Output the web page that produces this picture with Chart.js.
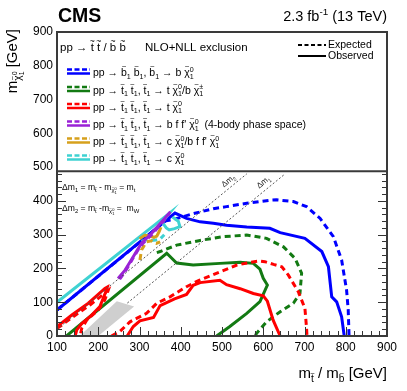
<!DOCTYPE html>
<html><head><meta charset="utf-8">
<script src="https://cdn.jsdelivr.net/npm/chart.js@4"></script>
<style>html,body{margin:0;padding:0;background:#fff}canvas{display:block}</style>
</head><body>
<canvas id="c" width="407" height="391"></canvas>
<script>
const FONT = '"Liberation Sans", Arial, Helvetica, sans-serif';

// ---- tick values ----
const xTickValues = [100, 200, 300, 400, 500, 600, 700, 800, 900];
const yTickValues = [0, 100, 200, 300, 400, 500, 600, 700, 800, 900];

// ---- contours [m_stop/sbottom, m_LSP] (GeV) ----
const sbottomObs = [[100,77],[386,364],[414,348],[447,338],[479,334],[511,328],[560,323],[616,319],[641,306],[701,289],[742,250],[758,205],[766,116],[778,101],[790,57],[796,3],[797,0]];
const sbottomExp = [[100,77],[345,322],[358,340],[382,345],[430,362],[479,377],[511,383],[560,393],[616,402],[632,403],[673,398],[705,383],[738,348],[770,294],[790,225],[802,136],[806,77],[808,0]];

const mixedObs = [[123,0],[366,245],[390,216],[430,210],[495,215],[544,218],[576,215],[592,198],[600,171],[610,151],[592,102],[560,67],[519,28],[487,0]];
const mixedExp = [[342,247],[350,250],[390,269],[447,283],[503,294],[560,299],[608,289],[649,264],[677,230],[693,186],[689,126],[673,97],[641,72],[608,42],[584,8],[580,0]];

const topObsDiag = [[100,28],[136,62],[176,97],[216,141],[222,145],[220,136],[204,87],[180,57],[160,37],[148,18],[144,0]];
const topExpDiag = [[100,22],[140,58],[180,92],[224,135],[216,107],[200,77],[172,47],[160,23],[156,0]];
const topObs = [[270,0],[285,28],[301,45],[334,55],[350,90],[385,110],[414,123],[430,150],[447,158],[495,165],[511,152],[544,140],[576,126],[600,119],[610,103],[624,47],[641,0]];
const topExp = [[232,0],[253,14],[277,42],[293,52],[317,67],[342,97],[374,116],[414,146],[438,161],[447,166],[495,190],[536,210],[568,218],[590,222],[604,220],[625,212],[645,205],[661,180],[685,131],[701,82],[705,23],[706,0]];

const fourBodyObs = [[248,170],[265,195],[280,225],[295,255],[305,275],[330,305],[355,340],[375,368]];
const fourBodyExp = [[252,168],[268,196],[283,228],[297,256],[308,274],[332,303],[357,338],[372,362]];

const charmMixObs = [[300,288],[313,298],[325,296],[335,292],[342,296],[348,310],[352,322]];
const charmMixExp = [[301,225],[305,255],[317,279],[329,282],[341,274],[350,279]];

const charmObs = [[100,100],[372,363],[360,345],[356,335],[365,320],[372,314],[385,318],[398,324],[394,340],[380,352]];
const charmExp = [[305,280],[315,285],[328,283],[340,284],[350,287],[360,300]];

const deltaM1Line = [[173,0],[653,480]];
const deltaM2Line = [[100,20],[560,480]];
const topCorridor = [[155,0],[200,0],[287,87],[245,103],[155,0]];

// ---- legend ----
const legendLabels = [
  "pp \u2192 ~b_{1} ~b_{1}, ~b_{1} \u2192 b ~\u03c7^{0}_{1}",
  "pp \u2192 ~t_{1} ~t_{1}, ~t_{1} \u2192 t ~\u03c7^{0}_{1}/b ~\u03c7^{\u00b1}_{1}",
  "pp \u2192 ~t_{1} ~t_{1}, ~t_{1} \u2192 t ~\u03c7^{0}_{1}",
  "pp \u2192 ~t_{1} ~t_{1}, ~t_{1} \u2192 b f f' ~\u03c7^{0}_{1}  (4-body phase space)",
  "pp \u2192 ~t_{1} ~t_{1}, ~t_{1} \u2192 c ~\u03c7^{0}_{1}/b f f' ~\u03c7^{0}_{1}",
  "pp \u2192 ~t_{1} ~t_{1}, ~t_{1} \u2192 c ~\u03c7^{0}_{1}"
];
const seriesColors = ['#0000ff', '#137a13', '#ff0000', '#9a22d6', '#d6a01c', '#3fd2d2'];

// ---- rich text helper (sub/superscripts, tildes) ----
function tokenize(s) {
  const toks = []; let buf = ''; let i = 0;
  const flush = () => { if (buf) { toks.push({k: 'p', t: buf}); buf = ''; } };
  while (i < s.length) {
    const c = s[i];
    if ((c === '_' || c === '^') && s[i+1] === '{') {
      flush();
      let d = 0, j = i + 1;
      for (; j < s.length; j++) { if (s[j] === '{') d++; else if (s[j] === '}') { d--; if (d === 0) break; } }
      toks.push({k: c === '_' ? 'sub' : 'sup', t: s.slice(i + 2, j)});
      i = j + 1;
    } else if (c === '~') {
      flush(); toks.push({k: 'til', t: s[i+1]}); i += 2;
    } else { buf += c; i++; }
  }
  flush();
  return toks;
}
function layoutRich(ctx, s, size, dy) {
  const toks = tokenize(s); const items = []; let cx = 0;
  let lastScript = null;
  for (const tk of toks) {
    if (tk.k === 'p' || tk.k === 'til') {
      ctx.font = size + 'px ' + FONT;
      const w = ctx.measureText(tk.t).width;
      items.push({t: tk.t, x: cx, dy, fs: size, tilde: tk.k === 'til', w});
      cx += w; lastScript = null;
    } else {
      const fs = size * 0.68;
      const sdy = dy + (tk.k === 'sub' ? size * 0.28 : -size * 0.42);
      const sub = layoutRich(ctx, tk.t, fs, sdy);
      let x0 = cx;
      if (lastScript && lastScript.k !== tk.k && !lastScript.stacked) {
        x0 = lastScript.x;
        cx = x0 + Math.max(lastScript.w, sub.width);
        lastScript = {k: tk.k, x: x0, w: sub.width, stacked: true};
      } else {
        cx += sub.width;
        lastScript = {k: tk.k, x: x0, w: sub.width, stacked: false};
      }
      for (const it of sub.items) items.push(Object.assign({}, it, {x: it.x + x0}));
    }
  }
  return {items, width: cx};
}
function drawRich(ctx, s, x, y, size, align, color) {
  const L = layoutRich(ctx, s, size, 0);
  let x0 = x;
  if (align === 'right') x0 = x - L.width; else if (align === 'center') x0 = x - L.width / 2;
  ctx.save();
  ctx.fillStyle = color || '#000';
  ctx.textBaseline = 'alphabetic'; ctx.textAlign = 'left';
  for (const it of L.items) {
    ctx.font = it.fs + 'px ' + FONT;
    ctx.fillText(it.t, x0 + it.x, y + it.dy);
    if (it.tilde) {
      ctx.font = (it.fs * 0.75) + 'px ' + FONT;
      ctx.textAlign = 'center';
      ctx.fillText('~', x0 + it.x + it.w / 2, y + it.dy - it.fs * 0.62);
      ctx.textAlign = 'left';
    }
  }
  ctx.restore();
  return L.width;
}

// ---- datasets ----
function ds(data, color, dashed, width, extra) {
  return Object.assign({
    data: data.map(p => ({x: p[0], y: p[1]})),
    showLine: true, borderColor: color, backgroundColor: color,
    borderWidth: width || 3, borderDash: dashed ? [6, 4] : [],
    pointRadius: 0, tension: 0, fill: false
  }, extra || {});
}
const datasets = [
  ds(topCorridor, 'rgba(0,0,0,0)', false, 0, {fill: 'shape', backgroundColor: '#cfcfcf'}),
  ds(deltaM1Line, '#555555', true, 1, {borderDash: [2, 2]}),
  ds(deltaM2Line, '#555555', true, 1, {borderDash: [2, 2]}),
  ds(topExpDiag, seriesColors[2], true),
  ds(topObsDiag, seriesColors[2], false),
  ds(topExp, seriesColors[2], true),
  ds(topObs, seriesColors[2], false),
  ds(mixedExp, seriesColors[1], true),
  ds(mixedObs, seriesColors[1], false),
  ds(fourBodyExp, seriesColors[3], true),
  ds(fourBodyObs, seriesColors[3], false),
  ds(charmMixExp, seriesColors[4], true),
  ds(charmMixObs, seriesColors[4], false),
  ds(charmExp, seriesColors[5], true),
  ds(charmObs, seriesColors[5], false),
  ds(sbottomExp, seriesColors[0], true),
  ds(sbottomObs, seriesColors[0], false)
];

const decor = {
  id: 'decor',
  afterDatasetsDraw(chart) {
    const ctx = chart.ctx, a = chart.chartArea;
    const sx = chart.scales.x, sy = chart.scales.y;
    ctx.save();
    // ticks
    ctx.strokeStyle = '#333'; ctx.lineWidth = 1;
    ctx.beginPath();
    for (let v = 100; v <= 900; v += 20) {
      const px = Math.round(sx.getPixelForValue(v)) + 0.5;
      const len = (v % 100 === 0) ? 9 : 5;
      ctx.moveTo(px, a.bottom); ctx.lineTo(px, a.bottom - len);
    }
    for (let v = 0; v <= 900; v += 20) {
      const py = Math.round(sy.getPixelForValue(v)) + 0.5;
      const len = (v % 100 === 0) ? 9 : 5;
      ctx.moveTo(a.left, py); ctx.lineTo(a.left + len, py);
      ctx.moveTo(a.right, py); ctx.lineTo(a.right - len, py);
    }
    ctx.stroke();
    // delta m line labels
    const ang = Math.atan2(sy.getPixelForValue(100) - sy.getPixelForValue(0), sx.getPixelForValue(200) - sx.getPixelForValue(100));
    const lab = (txt, vx, vy) => {
      ctx.save();
      ctx.translate(sx.getPixelForValue(vx), sy.getPixelForValue(vy));
      ctx.rotate(ang);
      drawRich(ctx, txt, 0, 0, 8, 'left', '#222');
      ctx.restore();
    };
    lab('\u0394m_{2}', 505, 440);
    lab('\u0394m_{1}', 590, 436);
    // annotation text
    drawRich(ctx, '\u0394m_{1} = m_{~t} - m_{~\u03c7^{0}_{1}} = m_{t}', a.left + 5, 190, 8.6, 'left');
    drawRich(ctx, '\u0394m_{2} = m_{~t} -m_{~\u03c7^{0}_{1}} =  m_{W}', a.left + 5, 211, 8.6, 'left');

    // legend box
    const boxBottom = sy.getPixelForValue(488);
    ctx.fillStyle = '#fff';
    ctx.fillRect(a.left, a.top, a.right - a.left, boxBottom - a.top);
    ctx.strokeStyle = '#3a3a3a'; ctx.lineWidth = 2;
    ctx.beginPath(); ctx.moveTo(a.left, boxBottom); ctx.lineTo(a.right, boxBottom); ctx.stroke();
    ctx.strokeRect(a.left, a.top, a.right - a.left, a.bottom - a.top);

    drawRich(ctx, 'pp \u2192 ~t ~t / ~b ~b', a.left + 3, 51, 11.5, 'left');
    drawRich(ctx, 'NLO+NLL exclusion', 145, 51, 11.5, 'left');
    // expected / observed
    ctx.strokeStyle = '#000'; ctx.lineWidth = 2;
    ctx.setLineDash([4, 2.5]);
    ctx.beginPath(); ctx.moveTo(298, 45); ctx.lineTo(326, 45); ctx.stroke();
    ctx.setLineDash([]);
    ctx.beginPath(); ctx.moveTo(298, 56); ctx.lineTo(326, 56); ctx.stroke();
    ctx.fillStyle = '#000'; ctx.font = '10.5px ' + FONT; ctx.textBaseline = 'middle'; ctx.textAlign = 'left';
    ctx.fillText('Expected', 328, 45);
    ctx.fillText('Observed', 328, 56);

    const cy = [72, 89.5, 106.5, 124, 141, 158];
    legendLabels.forEach((lbl, i) => {
      const c = cy[i];
      ctx.strokeStyle = seriesColors[i]; ctx.lineWidth = 2.5;
      ctx.setLineDash([5, 2.5]);
      ctx.beginPath(); ctx.moveTo(67, c - 2.5); ctx.lineTo(90, c - 2.5); ctx.stroke();
      ctx.setLineDash([]);
      ctx.beginPath(); ctx.moveTo(67, c + 1.5); ctx.lineTo(90, c + 1.5); ctx.stroke();
      drawRich(ctx, lbl, 93, c + 4, 10.5, 'left');
    });
    ctx.restore();
  },
  afterDraw(chart) {
    const ctx = chart.ctx, a = chart.chartArea;
    ctx.save();
    ctx.fillStyle = '#000';
    ctx.font = 'bold 19.5px ' + FONT; ctx.textBaseline = 'alphabetic'; ctx.textAlign = 'left';
    ctx.fillText('CMS', 58, 22);
    drawRich(ctx, '2.3 fb^{-1} (13 TeV)', a.right, 21, 14.5, 'right');
    drawRich(ctx, 'm_{~t} / m_{~b} [GeV]', a.right, 378, 15, 'right');
    ctx.save();
    ctx.translate(17, a.top - 3);
    ctx.rotate(-Math.PI / 2);
    drawRich(ctx, 'm_{~\u03c7^{0}_{1}} [GeV]', 0, 0, 15, 'right');
    ctx.restore();
    ctx.restore();
  }
};

new Chart(document.getElementById('c'), {
  type: 'scatter',
  data: {datasets},
  plugins: [decor],
  options: {
    responsive: false, animation: false, devicePixelRatio: 1,
    layout: {padding: {top: 32, right: 20, left: 0, bottom: 0}},
    plugins: {legend: {display: false}, tooltip: {enabled: false}},
    scales: {
      x: {
        type: 'linear', min: 100, max: 900,
        afterBuildTicks: s => { s.ticks = xTickValues.map(v => ({value: v})); },
        afterFit: s => { s.height = 55; },
        ticks: {font: {family: FONT, size: 12}, color: '#000', padding: 4, maxRotation: 0},
        grid: {display: false, drawTicks: false}, border: {display: false}
      },
      y: {
        type: 'linear', min: 0, max: 900,
        afterBuildTicks: s => { s.ticks = yTickValues.map(v => ({value: v})); },
        afterFit: s => { s.width = 57; },
        ticks: {font: {family: FONT, size: 12}, color: '#000', padding: 4},
        grid: {display: false, drawTicks: false}, border: {display: false}
      }
    }
  }
});
</script>
</body></html>
